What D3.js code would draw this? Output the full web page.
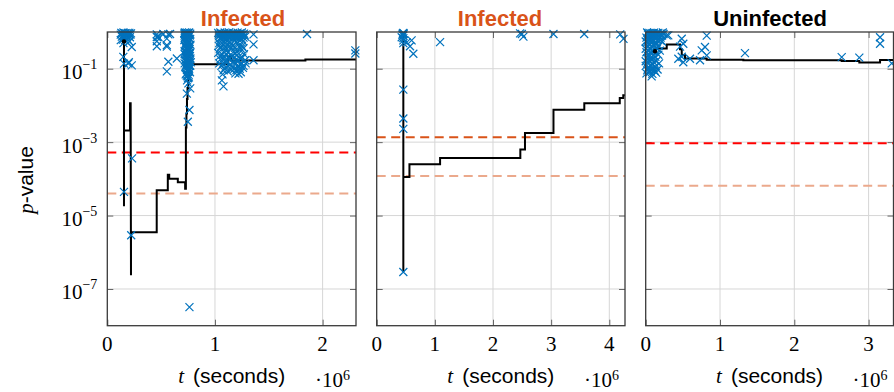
<!DOCTYPE html>
<html><head><meta charset="utf-8">
<script src="https://cdn.jsdelivr.net/npm/d3@7"></script>
<style>body{margin:0;background:#fff;} svg{display:block;}</style>
</head><body><svg id="c" width="894" height="392"></svg>
<script>
// ---- data (time in units of 10^6 seconds, p-values) ----
const titles = ["Infected", "Infected", "Uninfected"];
const titleColors = ["#D95319", "#D95319", "#000000"];
const xMax = [2.31, 4.27, 3.335];
const xTicks = [[0, 1, 2], [0, 1, 2, 3, 4], [0, 1, 2, 3]];
const yTicks = [1e-1, 1e-3, 1e-5, 1e-7];
const yTickExp = ["\u22121", "\u22123", "\u22125", "\u22127"];
const thresholdHigh = [5.2e-4, 1.35e-3, 9.3e-4];
const thresholdHighColor = ["#FF0000", "#D95319", "#FF0000"];
const thresholdLow = [4.0e-5, 1.2e-4, 6.5e-5];

const line1 = [[0.155,0.553],[0.155,1.79e-5],[0.155,2.09e-3],[0.211,2.09e-3],[0.211,1.14e-2],[0.217,1.14e-2],[0.22,2.37e-7],[0.22,3.5e-6],[0.459,3.5e-6],[0.459,4.9e-5],[0.562,4.9e-5],[0.562,1.3e-4],[0.575,1.3e-4],[0.575,1.0e-4],[0.655,1.0e-4],[0.655,8.1e-5],[0.723,8.1e-5],[0.723,5.4e-5],[0.73,5.4e-5],[0.73,2.5e-3],[0.735,2.5e-3],[0.735,6e-3],[0.74,6e-3],[0.74,1.5e-2],[0.745,1.5e-2],[0.745,3e-2],[0.752,3e-2],[0.752,5.5e-2],[0.758,5.5e-2],[0.758,0.08],[0.765,0.08],[0.765,0.133],[1.123,0.133],[1.123,0.216],[1.15,0.216],[1.15,0.168],[1.84,0.168],[1.84,0.179],[2.31,0.179]];
const points1 = [
 [0.13,0.95],[0.14,0.9],[0.15,0.97],[0.16,0.85],[0.17,0.93],[0.18,0.8],[0.19,0.95],[0.2,0.88],[0.22,0.92],[0.135,0.75],[0.155,0.7],[0.175,0.78],[0.21,0.72],[0.145,0.62],[0.165,0.6],[0.227,0.39],[0.15,0.5],[0.149,0.21],[0.155,0.137],[0.227,0.123],[0.195,0.137],[0.2,0.15],
 [0.125,0.85],[0.145,0.8],[0.165,0.92],[0.185,0.88],[0.205,0.95],[0.215,0.85],[0.125,0.6],[0.185,0.65],[0.205,0.55],
 [0.155,4.4e-5],[0.23,3.6e-4],[0.222,2.9e-6],
 [0.46,0.86],[0.46,0.73],[0.567,0.86],[0.46,0.56],[0.553,0.44],[0.553,0.4],[0.567,0.155],[0.646,0.19],[0.553,0.085],[0.52,0.88],[0.583,0.88],[0.474,0.73],[0.553,0.66],[0.46,0.41],
 [0.72,0.97],[0.73,0.95],[0.74,0.96],[0.75,0.93],[0.76,0.97],[0.77,0.9],[0.725,0.85],[0.745,0.82],[0.765,0.8],[0.735,0.75],[0.755,0.7],[0.72,0.68],[0.77,0.65],[0.74,0.6],[0.76,0.55],[0.73,0.5],[0.75,0.47],[0.72,0.43],[0.765,0.4],[0.745,0.37],[0.735,0.34],[0.755,0.31],[0.725,0.29],[0.77,0.27],[0.74,0.25],[0.76,0.23],[0.73,0.21],[0.75,0.19],[0.72,0.17],[0.765,0.16],[0.745,0.145],[0.735,0.13],[0.755,0.12],[0.725,0.11],[0.76,0.1],[0.74,0.092],[0.75,0.083],[0.735,0.075],[0.755,0.068],[0.745,0.062],[0.75,0.055],
 [0.715,0.9],[0.718,0.8],[0.722,0.72],[0.728,0.62],[0.732,0.58],[0.738,0.52],[0.742,0.45],[0.748,0.4],[0.752,0.35],[0.758,0.3],[0.762,0.26],[0.768,0.22],[0.772,0.19],[0.775,0.15],[0.718,0.14],[0.728,0.12],[0.738,0.105],[0.748,0.095],[0.758,0.088],[0.768,0.08],[0.728,0.07],[0.738,0.065],[0.758,0.058],[0.73,0.88],[0.75,0.86],[0.77,0.84],[0.715,0.6],[0.725,0.4],[0.765,0.34],[0.772,0.45],[0.718,0.3],[0.728,0.24],[0.738,0.19],[0.748,0.16],[0.758,0.14],[0.762,0.125],[0.718,0.25],[0.742,0.28],[0.752,0.24],[0.77,0.12],
 [0.741,0.048],[0.753,0.04],[0.77,0.029],[0.739,0.021],[0.763,0.0075],[0.748,0.0036],[0.763,3.2e-8],
 [1.03,0.95],[1.05,0.97],[1.07,0.9],[1.09,0.96],[1.11,0.93],[1.13,0.97],[1.15,0.9],[1.17,0.95],[1.19,0.88],[1.21,0.96],[1.23,0.92],[1.25,0.97],[1.27,0.9],[1.04,0.78],[1.08,0.8],[1.12,0.75],[1.16,0.82],[1.2,0.77],[1.24,0.8],[1.28,0.75],[1.06,0.65],[1.1,0.6],[1.14,0.67],[1.18,0.58],[1.22,0.63],[1.26,0.56],[1.04,0.5],[1.08,0.45],[1.13,0.52],[1.17,0.44],[1.21,0.5],[1.25,0.42],[1.05,0.36],[1.1,0.33],[1.15,0.38],[1.2,0.3],[1.24,0.35],[1.03,0.27],[1.07,0.24],[1.12,0.28],[1.16,0.22],[1.19,0.26],[1.22,0.21],[1.27,0.25],[1.05,0.18],[1.09,0.16],[1.13,0.19],[1.17,0.15],[1.21,0.17],[1.25,0.14],[1.06,0.12],[1.1,0.11],[1.14,0.13],[1.18,0.1],[1.22,0.12],[1.26,0.105],[1.08,0.09],[1.12,0.085],[1.2,0.092],[1.24,0.08],[1.07,0.07],[1.19,0.075],
 [1.035,0.85],[1.055,0.88],[1.075,0.83],[1.095,0.85],[1.115,0.8],[1.135,0.86],[1.155,0.8],[1.175,0.87],[1.195,0.82],[1.215,0.86],[1.235,0.83],[1.255,0.86],[1.275,0.82],[1.045,0.68],[1.065,0.72],[1.085,0.7],[1.105,0.68],[1.125,0.71],[1.145,0.73],[1.165,0.69],[1.185,0.72],[1.205,0.7],[1.225,0.72],[1.245,0.66],[1.265,0.7],[1.035,0.42],[1.055,0.4],[1.095,0.38],[1.115,0.42],[1.135,0.4],[1.185,0.37],[1.225,0.4],[1.265,0.36],[1.045,0.22],[1.085,0.2],[1.105,0.25],[1.145,0.24],[1.175,0.2],[1.205,0.23],[1.235,0.19],[1.255,0.2],[1.28,0.17],[1.04,0.14],[1.075,0.135],[1.115,0.15],[1.155,0.12],[1.195,0.14],[1.235,0.13],[1.265,0.12],[1.285,0.14],[1.09,0.1],[1.15,0.095],[1.23,0.1],
 [1.064,0.048],[1.079,0.033],[1.219,0.073],[1.358,0.86],[1.358,0.46],[1.358,0.17],[1.855,0.88],[2.304,0.315],[2.304,0.26]
];

const line2 = [[0.458,0.9],[0.458,2.9e-7],[0.458,1.12e-4],[0.563,1.12e-4],[0.563,2.5e-4],[1.09,2.5e-4],[1.09,3.7e-4],[2.47,3.7e-4],[2.47,6.3e-4],[2.55,6.3e-4],[2.55,1.78e-3],[3.04,1.78e-3],[3.04,7.6e-3],[3.57,7.6e-3],[3.57,1.15e-2],[4.18,1.15e-2],[4.18,0.016],[4.24,0.016],[4.24,0.019],[4.27,0.019]];
const points2 = [
 [0.458,0.95],[0.458,0.88],[0.458,0.8],[0.45,0.92],[0.465,0.9],[0.44,0.85],[0.43,0.72],[0.458,0.68],[0.458,0.59],[0.458,0.5],[0.6,0.59],[0.516,0.52],[0.573,0.41],[0.63,0.256],[1.09,0.53],
 [0.458,0.027],[0.458,4.4e-3],[0.458,2.3e-3],[0.458,2.9e-7],
 [2.466,0.92],[2.496,0.88],[2.523,0.75],[3.04,0.88],[3.568,0.88],[4.188,0.86],[4.244,0.65]
];

const line3 = [[0.125,0.30],[0.125,0.357],[0.283,0.357],[0.283,0.458],[0.462,0.458],[0.462,0.341],[0.485,0.341],[0.485,0.234],[0.529,0.234],[0.529,0.19],[0.821,0.19],[0.821,0.175],[1.314,0.175],[1.314,0.17],[2.638,0.17],[2.638,0.161],[2.875,0.161],[2.875,0.147],[3.154,0.147],[3.154,0.172],[3.335,0.172]];
const points3 = [
 [0.02,0.97],[0.05,0.95],[0.08,0.93],[0.11,0.96],[0.14,0.9],[0.17,0.95],[0.2,0.92],[0.23,0.97],[0.03,0.85],[0.06,0.8],[0.09,0.83],[0.12,0.78],[0.15,0.82],[0.18,0.76],[0.22,0.8],[0.01,0.7],[0.04,0.65],[0.07,0.68],[0.1,0.62],[0.13,0.66],[0.16,0.6],[0.2,0.58],[0.02,0.52],[0.05,0.48],[0.08,0.5],[0.11,0.45],[0.14,0.47],[0.18,0.42],[0.03,0.4],[0.06,0.36],[0.09,0.38],[0.12,0.33],[0.15,0.35],[0.19,0.31],[0.01,0.28],[0.04,0.25],[0.07,0.27],[0.1,0.23],[0.13,0.21],[0.17,0.24],[0.02,0.19],[0.05,0.17],[0.08,0.18],[0.11,0.15],[0.14,0.16],[0.18,0.14],[0.0,0.12],[0.04,0.11],[0.07,0.125],[0.1,0.1],[0.13,0.115],[0.16,0.095],[0.02,0.09],[0.06,0.085],[0.12,0.088],[0.01,0.075],[0.05,0.08],[0.09,0.072],[0.14,0.078],
 [0.03,0.92],[0.07,0.87],[0.1,0.92],[0.15,0.93],[0.19,0.85],[0.0,0.55],[0.03,0.6],[0.06,0.57],[0.09,0.55],[0.12,0.5],[0.0,0.35],[0.04,0.31],[0.08,0.3],[0.11,0.29],[0.03,0.22],[0.07,0.2],[0.0,0.16],[0.09,0.13],[0.03,0.1],[0.07,0.095],[0.11,0.09],[0.08,0.062],[0.2,0.7],[0.24,0.88],[0.22,0.55],
 [0.283,0.81],[0.304,0.81],[0.485,0.655],[0.506,0.48],[0.462,0.4],[0.485,0.212],[0.439,0.187],[0.506,0.15],[0.596,0.187],[0.731,0.17],[0.821,0.8],[0.798,0.39],[0.754,0.315],[0.821,0.23],
 [1.336,0.265],[2.638,0.207],[2.875,0.2],[3.154,0.72],[3.154,0.48],[3.311,0.14]
];

const lines = [line1, line2, line3];
const pointsAll = [points1, points2, points3];
const showStartDot = [true, false, true];

// ---- layout ----
const svg = d3.select("#c");
const panelLeft = [107.3, 376.7, 645.7];
const panelRight = [356, 625, 893.5];
const yTop = 32, yBottom = 325.7;
const serif = "'Liberation Serif','DejaVu Serif',serif";
const sans = "'Liberation Sans',Arial,sans-serif";

const y = d3.scaleLog().domain([1e-8, 1]).range([yBottom, yTop]);

for (let i = 0; i < 3; i++) {
  const x = d3.scaleLinear().domain([0, xMax[i]]).range([panelLeft[i], panelRight[i]]);
  const g = svg.append("g");
  const w = panelRight[i] - panelLeft[i];

  // grid
  g.append("g").selectAll("line").data(xTicks[i].filter(d => d > 0)).join("line")
    .attr("x1", d => x(d)).attr("x2", d => x(d)).attr("y1", yTop).attr("y2", yBottom)
    .attr("stroke", "#d6d6d6").attr("stroke-width", 1);
  g.append("g").selectAll("line").data(yTicks).join("line")
    .attr("x1", panelLeft[i]).attr("x2", panelRight[i]).attr("y1", d => y(d)).attr("y2", d => y(d))
    .attr("stroke", "#d6d6d6").attr("stroke-width", 1);

  // axes (inward ticks on all four sides)
  const axL = g.append("g").attr("transform", `translate(${panelLeft[i]},0)`)
    .call(d3.axisRight(y).tickValues(yTicks).tickSize(6).tickFormat(""));
  const axR = g.append("g").attr("transform", `translate(${panelRight[i]},0)`)
    .call(d3.axisLeft(y).tickValues(yTicks).tickSize(6).tickFormat(""));
  const axB = g.append("g").attr("transform", `translate(0,${yBottom})`)
    .call(d3.axisTop(x).tickValues(xTicks[i]).tickSize(6).tickFormat(""));
  const axT = g.append("g").attr("transform", `translate(0,${yTop})`)
    .call(d3.axisBottom(x).tickValues(xTicks[i]).tickSize(6).tickFormat(""));
  [axL, axR, axB, axT].forEach(a => {
    a.select(".domain").remove();
    a.selectAll(".tick line").attr("stroke", "#666").attr("stroke-width", 1);
  });

  // thresholds
  g.append("line").attr("x1", panelLeft[i]).attr("x2", panelRight[i])
    .attr("y1", y(thresholdHigh[i])).attr("y2", y(thresholdHigh[i]))
    .attr("stroke", thresholdHighColor[i]).attr("stroke-width", 2).attr("stroke-dasharray", "9,5.5");
  g.append("line").attr("x1", panelLeft[i]).attr("x2", panelRight[i])
    .attr("y1", y(thresholdLow[i])).attr("y2", y(thresholdLow[i]))
    .attr("stroke", "#EBA98C").attr("stroke-width", 2).attr("stroke-dasharray", "9,5.5");

  // step line
  const ln = d3.line().x(d => x(d[0])).y(d => y(d[1]));
  g.append("path").datum(lines[i]).attr("d", ln).attr("fill", "none")
    .attr("stroke", "#000").attr("stroke-width", 2).attr("stroke-linejoin", "miter");

  // crosses
  g.append("g").selectAll("path").data(pointsAll[i]).join("path")
    .attr("transform", d => `translate(${x(d[0])},${y(d[1])})`)
    .attr("d", "M-4,-4L4,4M-4,4L4,-4")
    .attr("stroke", "#0072BD").attr("stroke-width", 1.2).attr("fill", "none");

  if (showStartDot[i]) {
    g.append("circle").attr("cx", x(lines[i][0][0])).attr("cy", y(lines[i][0][1])).attr("r", 2.2).attr("fill", "#000");
  }

  // frame
  g.append("rect").attr("x", panelLeft[i]).attr("y", yTop).attr("width", w).attr("height", yBottom - yTop)
    .attr("fill", "none").attr("stroke", "#3a3a3a").attr("stroke-width", 1.3);

  // x tick labels
  g.append("g").selectAll("text").data(xTicks[i]).join("text")
    .attr("x", d => x(d)).attr("y", 350.5).attr("text-anchor", "middle")
    .attr("font-family", serif).attr("font-size", 21).attr("fill", "#000").text(d => d);

  // y tick labels (first panel only)
  if (i === 0) {
    const tl = g.append("g").selectAll("text").data(yTicks).join("text")
      .attr("x", panelLeft[i] - 10).attr("y", d => y(d) + 10.5).attr("text-anchor", "end")
      .attr("font-family", serif).attr("fill", "#000");
    tl.append("tspan").attr("font-size", 21).text("10");
    tl.append("tspan").attr("font-size", 14).attr("dy", -10).text((d, k) => yTickExp[k]);
  }

  // title
  const tcx = [243, 500, 770][i];
  g.append("text").attr("x", tcx).attr("y", 26).attr("text-anchor", "middle")
    .attr("font-family", sans).attr("font-weight", "bold").attr("font-size", 22)
    .attr("fill", titleColors[i]).text(titles[i]);

  // x label
  const xl = g.append("text").attr("x", (panelLeft[i] + panelRight[i]) / 2).attr("y", 383)
    .attr("text-anchor", "middle").attr("fill", "#000");
  xl.append("tspan").attr("font-family", serif).attr("font-style", "italic").attr("font-size", 21).text("t");
  xl.append("tspan").attr("font-family", sans).attr("font-size", 21).attr("dx", 9).text("(seconds)");

  // exponent multiplier
  const ml = g.append("text").attr("x", panelRight[i] - 6).attr("y", 387)
    .attr("text-anchor", "end").attr("font-family", serif).attr("fill", "#000");
  ml.append("tspan").attr("font-size", 21).text("\u00B710");
  ml.append("tspan").attr("font-size", 14).attr("dy", -7).text("6");
}

// y label
const yl = svg.append("text").attr("transform", "translate(33,180) rotate(-90)")
  .attr("text-anchor", "middle").attr("fill", "#000");
yl.append("tspan").attr("font-family", serif).attr("font-style", "italic").attr("font-size", 21).text("p");
yl.append("tspan").attr("font-family", sans).attr("font-size", 21).text("-value");
</script>
</body></html>
